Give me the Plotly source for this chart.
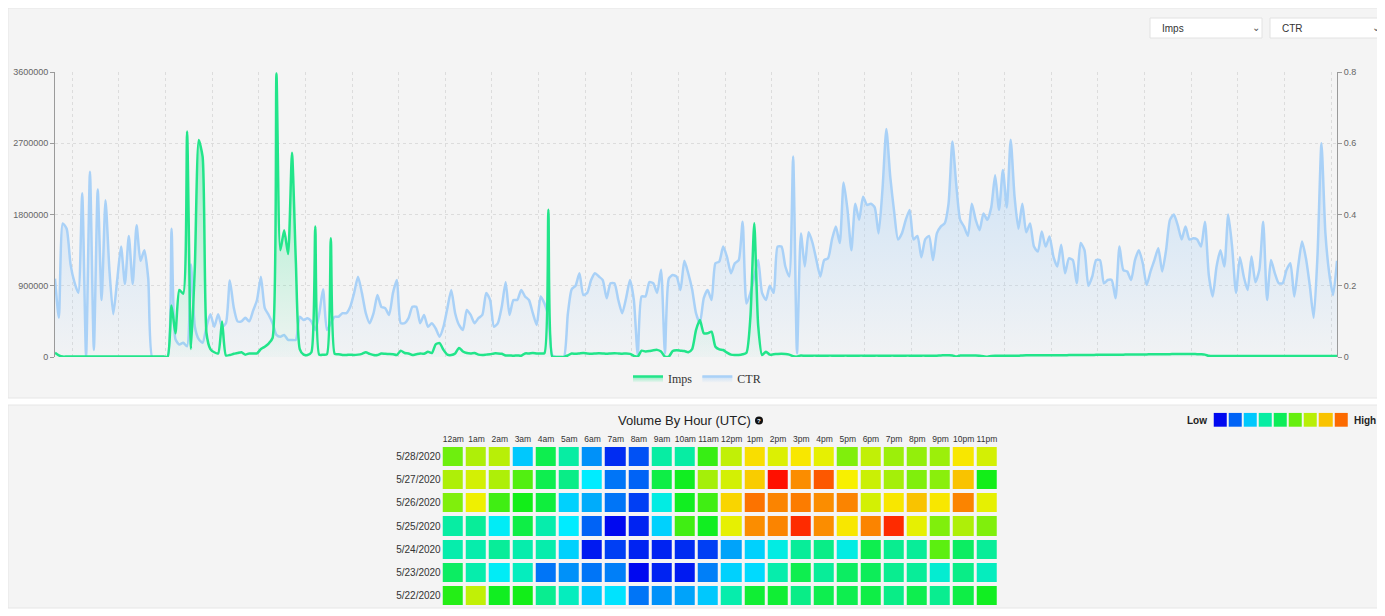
import plotly.graph_objects as go
import pandas as pd

# ---------------- data ----------------
imps = [
    55000, 20000, 5000, 5000, 5000, 5000, 5000, 5000, 5000, 5000,
    5000, 5000, 5000, 5000, 5000, 5000, 5000, 5000, 5000, 5000,
    5000, 5000, 5000, 5000, 5000, 5000, 5000, 5000, 5000, 5000,
    650000, 300000, 846000, 800000, 2850000, 100000, 1140000, 2740000, 2530000, 300000,
    100000, 60000, 46000, 450000, 20000, 25000, 40000, 50000, 60000, 30000,
    45000, 45000, 45000, 100000, 130000, 170000, 240000, 3580000, 1350000, 1600000,
    1300000, 2580000, 1200000, 100000, 30000, 25000, 60000, 1650000, 30000, 30000,
    35000, 1500000, 40000, 35000, 25000, 25000, 30000, 25000, 30000, 40000,
    60000, 40000, 25000, 25000, 45000, 40000, 38000, 35000, 25000, 80000,
    50000, 45000, 25000, 35000, 45000, 40000, 65000, 50000, 160000, 175000,
    90000, 30000, 25000, 45000, 115000, 70000, 50000, 45000, 50000, 30000,
    25000, 30000, 35000, 45000, 45000, 40000, 20000, 20000, 15000, 20000,
    15000, 45000, 45000, 50000, 45000, 45000, 50000, 1860000, 5000, 0,
    0, 0, 20000, 45000, 40000, 45000, 50000, 45000, 42000, 45000,
    48000, 45000, 40000, 45000, 48000, 45000, 42000, 45000, 40000, 15000,
    5000, 80000, 70000, 75000, 85000, 90000, 70000, 5000, 5000, 75000,
    85000, 80000, 75000, 60000, 100000, 340000, 467000, 300000, 300000, 320000,
    130000, 97000, 88000, 55000, 30000, 25000, 25000, 34000, 55000, 500000,
    1690000, 400000, 25000, 67000, 30000, 35000, 38000, 40000, 38000, 30000,
    10000, 5000, 20000, 15000, 15000, 17000, 17000, 15000, 15000, 17000,
    17000, 15000, 15000, 17000, 17000, 15000, 15000, 17000, 17000, 15000,
    15000, 17000, 17000, 15000, 15000, 17000, 17000, 15000, 15000, 17000,
    17000, 15000, 15000, 17000, 17000, 15000, 15000, 17000, 20000, 22000,
    22000, 20000, 5000, 18000, 18000, 18000, 18000, 18000, 15000, 10000,
    3000, 12000, 15000, 15000, 15000, 15000, 15000, 15000, 15000, 20000,
    22000, 22000, 22000, 22000, 22000, 22000, 22000, 22000, 22000, 22000,
    22000, 24000, 24000, 25000, 25000, 25000, 26000, 26000, 27000, 27000,
    28000, 28000, 29000, 30000, 30000, 30000, 31000, 31000, 32000, 32000,
    33000, 33000, 34000, 34000, 35000, 35000, 36000, 36000, 37000, 37000,
    38000, 38000, 38000, 38000, 36000, 34000, 30000, 15000, 12000, 12000,
    12000, 12000, 12000, 12000, 12000, 12000, 12000, 12000, 12000, 12000,
    12000, 12000, 12000, 12000, 12000, 12000, 12000, 12000, 12000, 12000,
    12000, 12000, 12000, 12000, 12000, 12000, 12000, 12000, 12000, 12000,
    12000,
]

ctr = [
    0.22, 0.11, 0.375, 0.36, 0.26, 0.21, 0.18, 0.46, 0.0, 0.52,
    0.02, 0.47, 0.16, 0.44, 0.245, 0.12, 0.215, 0.31, 0.205, 0.34,
    0.205, 0.37, 0.27, 0.30, 0.22, 0.0, 0.0, 0.0, 0.0, 0.0,
    0.36, 0.05, 0.035, 0.04, 0.03, 0.26, 0.085, 0.05, 0.04, 0.085,
    0.12, 0.085, 0.12, 0.085, 0.095, 0.215, 0.14, 0.10, 0.10, 0.11,
    0.10, 0.13, 0.16, 0.225, 0.137, 0.118, 0.095, 0.062, 0.057, 0.062,
    0.048, 0.048, 0.048, 0.113, 0.104, 0.109, 0.10, 0.076, 0.12, 0.19,
    0.076, 0.095, 0.113, 0.113, 0.123, 0.123, 0.141, 0.18, 0.225, 0.18,
    0.123, 0.095, 0.123, 0.174, 0.141, 0.137, 0.118, 0.18, 0.216, 0.095,
    0.095, 0.109, 0.141, 0.141, 0.095, 0.118, 0.085, 0.095, 0.08, 0.057,
    0.085, 0.137, 0.188, 0.123, 0.09, 0.076, 0.132, 0.118, 0.095, 0.109,
    0.118, 0.18, 0.16, 0.085, 0.095, 0.141, 0.21, 0.118, 0.16, 0.16,
    0.188, 0.17, 0.16, 0.123, 0.09, 0.17, 0.15, 0.113, 0.005, 0.0,
    0.0, 0.0, 0.12, 0.19, 0.2, 0.235, 0.174, 0.18, 0.216, 0.235,
    0.226, 0.216, 0.165, 0.207, 0.207, 0.16, 0.123, 0.165, 0.216, 0.16,
    0.005, 0.17, 0.17, 0.21, 0.207, 0.18, 0.245, 0.01, 0.22, 0.23,
    0.226, 0.188, 0.27, 0.235, 0.19, 0.123, 0.095, 0.165, 0.188, 0.16,
    0.263, 0.268, 0.31, 0.28, 0.235, 0.263, 0.272, 0.38, 0.15, 0.18,
    0.226, 0.272, 0.18, 0.16, 0.2, 0.18, 0.31, 0.31, 0.254, 0.226,
    0.563, 0.01, 0.347, 0.254, 0.35, 0.32, 0.272, 0.226, 0.272, 0.277,
    0.33, 0.366, 0.32, 0.49, 0.413, 0.30, 0.43, 0.385, 0.45, 0.427,
    0.43, 0.42, 0.347, 0.47, 0.64, 0.506, 0.408, 0.33, 0.347, 0.385,
    0.413, 0.33, 0.34, 0.28, 0.33, 0.34, 0.272, 0.347, 0.366, 0.375,
    0.43, 0.605, 0.483, 0.385, 0.366, 0.34, 0.43, 0.385, 0.356, 0.403,
    0.385, 0.42, 0.51, 0.413, 0.525, 0.42, 0.61, 0.45, 0.36, 0.43,
    0.35, 0.375, 0.31, 0.296, 0.352, 0.31, 0.338, 0.282, 0.254, 0.315,
    0.235, 0.277, 0.272, 0.207, 0.32, 0.30, 0.2, 0.226, 0.272, 0.272,
    0.207, 0.216, 0.216, 0.165, 0.31, 0.244, 0.24, 0.216, 0.272, 0.30,
    0.263, 0.202, 0.24, 0.272, 0.305, 0.24, 0.30, 0.385, 0.40, 0.37,
    0.33, 0.366, 0.33, 0.333, 0.33, 0.31, 0.38, 0.23, 0.17, 0.254,
    0.30, 0.254, 0.40, 0.31, 0.18, 0.28, 0.226, 0.188, 0.282, 0.21,
    0.244, 0.38, 0.16, 0.272, 0.235, 0.207, 0.207, 0.244, 0.263, 0.17,
    0.254, 0.324, 0.277, 0.2, 0.11, 0.29, 0.60, 0.35, 0.235, 0.174,
    0.27,
]

times = pd.date_range("2020-05-22 00:00", periods=len(ctr), freq="30min")

imps_ticks = [0, 900000, 1800000, 2700000, 3600000]
ctr_ticks = [0, 0.2, 0.4, 0.6, 0.8]

hours = ["12am", "1am", "2am", "3am", "4am", "5am", "6am", "7am", "8am", "9am", "10am", "11am",
         "12pm", "1pm", "2pm", "3pm", "4pm", "5pm", "6pm", "7pm", "8pm", "9pm", "10pm", "11pm"]
days = ["5/28/2020", "5/27/2020", "5/26/2020", "5/25/2020", "5/24/2020", "5/23/2020", "5/22/2020"]
volume = [
    [60, 67, 68, 21, 44, 35, 15, 4, 8, 35, 35, 54, 69, 77, 72, 76, 73, 62, 69, 65, 64, 65, 76, 71],
    [67, 71, 67, 57, 44, 38, 25, 12, 10, 45, 49, 66, 71, 79, 100, 86, 92, 75, 70, 66, 62, 63, 80, 50],
    [62, 74, 55, 50, 46, 22, 18, 12, 6, 28, 49, 55, 78, 89, 87, 88, 86, 87, 71, 76, 80, 76, 87, 73],
    [35, 36, 26, 45, 34, 25, 10, 0, 3, 22, 55, 49, 73, 86, 87, 97, 86, 76, 87, 97, 73, 62, 67, 62],
    [34, 34, 36, 34, 34, 22, 2, 6, 3, 3, 4, 6, 17, 22, 28, 36, 38, 28, 44, 37, 36, 58, 42, 36],
    [42, 34, 26, 32, 12, 15, 12, 13, 0, 3, 2, 13, 22, 23, 34, 44, 36, 42, 43, 37, 36, 30, 38, 32],
    [52, 69, 49, 50, 37, 32, 21, 24, 12, 15, 17, 21, 34, 47, 47, 38, 44, 44, 45, 38, 44, 37, 45, 49],
]
legend_levels = [0, 10, 21, 35, 43, 59, 68, 80, 90]

# ---------------- helpers (page pixel -> paper); page body has an 8px margin ----------------
OFF = 8
W, H = 1385 - OFF, 616 - OFF


def px(x):
    return (x - OFF) / W


def py(y):
    return 1 - (y - OFF) / H


SANS = "Liberation Sans, Arial, sans-serif"
heat_scale = [[0, "#0008f0"], [0.25, "#00ecff"], [0.5, "#12ee18"], [0.75, "#f8f000"], [1, "#ff1000"]]

fig = go.Figure()

fig.add_trace(go.Scatter(
    x=times, y=ctr, name="CTR", mode="lines", yaxis="y", xaxis="x",
    line=dict(color="#a9d1f7", width=2.5, shape="spline", smoothing=0.6),
    fill="tozeroy",
    fillgradient=dict(type="vertical",
                      colorscale=[[0, "rgba(169,209,247,0.04)"], [1, "rgba(169,209,247,0.55)"]]),
    legendrank=2,
))
fig.add_trace(go.Scatter(
    x=times, y=imps, name="Imps", mode="lines", yaxis="y2", xaxis="x",
    line=dict(color="#22e58a", width=2.5, shape="spline", smoothing=0.6),
    fill="tozeroy",
    fillgradient=dict(type="vertical",
                      colorscale=[[0, "rgba(34,229,138,0.02)"], [1, "rgba(34,229,138,0.5)"]]),
    legendrank=1,
))

fig.add_trace(go.Heatmap(
    z=volume, x=hours, y=days, xaxis="x2", yaxis="y3",
    colorscale=heat_scale, zmin=0, zmax=100, showscale=False,
    xgap=3, ygap=4, showlegend=False,
))
fig.add_trace(go.Heatmap(
    z=[legend_levels], x=list(range(len(legend_levels))), y=[0], xaxis="x3", yaxis="y4",
    colorscale=heat_scale, zmin=0, zmax=100, showscale=False,
    xgap=2, ygap=0, showlegend=False, hoverinfo="skip",
))

axis_common = dict(showline=True, linecolor="#9a9a9a", linewidth=1, ticks="outside",
                   ticklen=4, tickcolor="#9a9a9a", tickfont=dict(size=9, color="#666", family=SANS),
                   zeroline=False, automargin=False)

shapes = [
    dict(type="rect", xref="paper", yref="paper", x0=px(8), x1=px(1380), y0=py(398), y1=py(8),
         fillcolor="#f4f4f4", line=dict(color="#e6e6e6", width=1), layer="below"),
    dict(type="rect", xref="paper", yref="paper", x0=px(8), x1=px(1380), y0=py(608), y1=py(405),
         fillcolor="#f4f4f4", line=dict(color="#e6e6e6", width=1), layer="below"),
    dict(type="rect", xref="paper", yref="paper", x0=px(1150), x1=px(1262), y0=py(38), y1=py(18),
         fillcolor="#ffffff", line=dict(color="#e2e2e2", width=1), layer="below"),
    dict(type="rect", xref="paper", yref="paper", x0=px(1270), x1=px(1380), y0=py(38), y1=py(18),
         fillcolor="#ffffff", line=dict(color="#e2e2e2", width=1), layer="below"),
    dict(type="circle", xref="paper", yref="paper", x0=px(755), x1=px(763), y0=py(424.5), y1=py(416.5),
         fillcolor="#111111", line=dict(width=0)),
]

annotations = [
    dict(text="Imps", x=px(1160), y=py(28), xref="paper", yref="paper", xanchor="left", yanchor="middle",
         showarrow=False, font=dict(size=10, color="#333", family=SANS)),
    dict(text="⌄", x=px(1256), y=py(27), xref="paper", yref="paper", xanchor="center", yanchor="middle",
         showarrow=False, font=dict(size=10, color="#555", family="DejaVu Sans")),
    dict(text="CTR", x=px(1280), y=py(28), xref="paper", yref="paper", xanchor="left", yanchor="middle",
         showarrow=False, font=dict(size=10, color="#333", family=SANS)),
    dict(text="⌄", x=px(1376), y=py(27), xref="paper", yref="paper", xanchor="center", yanchor="middle",
         showarrow=False, font=dict(size=10, color="#555", family="DejaVu Sans")),
    dict(text="Volume By Hour (UTC)", x=px(753), y=py(420), xref="paper", yref="paper",
         xanchor="right", yanchor="middle", showarrow=False,
         font=dict(size=13, color="#222", family=SANS)),
    dict(text="<b>?</b>", x=px(759), y=py(420.5), xref="paper", yref="paper",
         xanchor="center", yanchor="middle", showarrow=False,
         font=dict(size=6, color="#ffffff", family=SANS)),
    dict(text="<b>Low</b>", x=px(1209), y=py(420), xref="paper", yref="paper",
         xanchor="right", yanchor="middle", showarrow=False,
         font=dict(size=10, color="#222", family=SANS)),
    dict(text="<b>High</b>", x=px(1352), y=py(420), xref="paper", yref="paper",
         xanchor="left", yanchor="middle", showarrow=False,
         font=dict(size=10, color="#222", family=SANS)),
]

fig.update_layout(
    width=W, height=H,
    margin=dict(l=0, r=0, t=0, b=0, pad=0, autoexpand=False),
    paper_bgcolor="#ffffff", plot_bgcolor="rgba(0,0,0,0)",
    shapes=shapes, annotations=annotations,
    showlegend=True,
    legend=dict(orientation="h", x=px(697), xanchor="center", y=py(364), yanchor="top",
                font=dict(family="Liberation Serif, Times New Roman, serif", size=12, color="#333"),
                bgcolor="rgba(0,0,0,0)", itemwidth=30),
    xaxis=dict(domain=[px(55), px(1337)], anchor="y", range=[times[0], times[-1]],
               showgrid=True, gridcolor="#dcdcdc", griddash="dot", gridwidth=1,
               tick0="2020-05-22 02:14", dtick=21600000, automargin=False,
               showticklabels=False, ticks="", showline=False, zeroline=False),
    yaxis=dict(domain=[py(357), py(72)], anchor="x", side="right", range=[0, 0.8],
               tickvals=ctr_ticks, ticktext=[str(v) if v else "0" for v in ctr_ticks],
               showgrid=True, gridcolor="#dcdcdc", griddash="dot", gridwidth=1, **axis_common),
    yaxis2=dict(overlaying="y", anchor="x", side="left", range=[0, 3600000],
                tickvals=imps_ticks, tickformat="d", showgrid=False, **axis_common),
    xaxis2=dict(domain=[px(441.7), px(998.5)], anchor="y3", side="top", showgrid=False,
                ticks="", showline=False, zeroline=False, tickangle=0, automargin=False,
                tickfont=dict(size=8.5, color="#333", family=SANS)),
    yaxis3=dict(domain=[py(607), py(445)], anchor="x2", autorange="reversed", showgrid=False,
                ticks="", showline=False, zeroline=False, automargin=False,
                tickfont=dict(size=10, color="#333", family=SANS)),
    xaxis3=dict(domain=[px(1212.7), px(1348.3)], anchor="y4", visible=False),
    yaxis4=dict(domain=[py(427), py(412.7)], anchor="x3", visible=False),
)

fig.write_html("out.html")
